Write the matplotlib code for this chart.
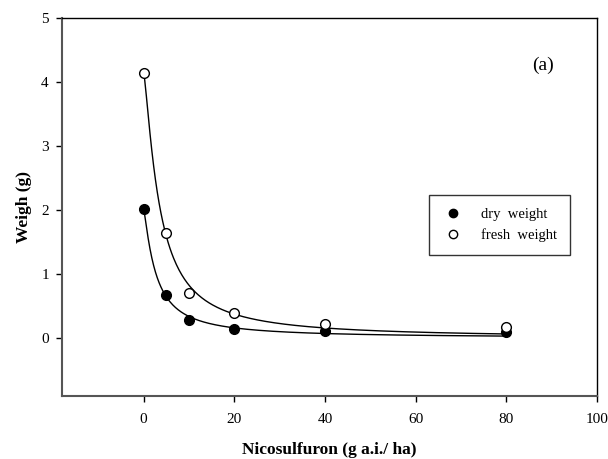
import numpy as np
import matplotlib
matplotlib.use("Agg")
from matplotlib import pyplot as plt

# data
dose = [0, 5, 10, 20, 40, 80]                      # g a.i./ha
dry = [2.02, 0.67, 0.29, 0.15, 0.11, 0.09]         # dry weight (g)
fresh = [4.15, 1.65, 0.70, 0.40, 0.22, 0.18]       # fresh weight (g)
xticks = [0, 20, 40, 60, 80, 100]
yticks = [0, 1, 2, 3, 4, 5]

plt.rcParams['font.family'] = ['Liberation Serif', 'DejaVu Serif']


def fit_curve(x, y):
    # log-logistic dose response y = d / (1 + (x/e)^b), grid search on e, b
    x = np.asarray(x, float)
    y = np.asarray(y, float)
    best = None
    for e in np.linspace(1.0, 10.0, 91):
        for b in np.linspace(0.8, 2.5, 69):
            g = 1.0 / (1.0 + (x / e) ** b)
            d = np.sum(g * y) / np.sum(g * g)
            err = np.sum((d * g - y) ** 2)
            if best is None or err < best[0]:
                best = (err, d, e, b)
    _, d, e, b = best
    return lambda t: d / (1.0 + (t / e) ** b)


fig = plt.figure(figsize=(6.08, 4.59), dpi=100)
ax = fig.add_axes([0.102, 0.138, 0.880, 0.822])

xs = np.linspace(0, 80, 400)
ax.plot(xs, fit_curve(dose, dry)(xs), color='black', lw=1.0)
ax.plot(xs, fit_curve(dose, fresh)(xs), color='black', lw=1.0)

ax.plot(dose, dry, 'o', color='black', ms=7, label='dry  weight')
ax.plot(dose, fresh, 'o', mfc='white', mec='black', mew=1.0, ms=7, label='fresh  weight')

ax.set_xlim(-18, 100)
ax.set_ylim(-0.9, 5)
ax.set_xticks(xticks)
ax.set_yticks(yticks)
ax.tick_params(direction='out', length=4.5, width=1, labelsize=11,
               top=False, right=False)
ax.tick_params(axis='x', pad=8)
ax.tick_params(axis='y', pad=5)

for s in ['left', 'bottom']:
    ax.spines[s].set_color('#555555')
    ax.spines[s].set_linewidth(1.5)
for s in ['top', 'right']:
    ax.spines[s].set_color('black')
    ax.spines[s].set_linewidth(1.0)

ax.set_xlabel('Nicosulfuron (g a.i./ ha)', fontsize=12.5, fontweight='bold')
ax.set_ylabel('Weigh (g)', fontsize=12.5, fontweight='bold')
ax.xaxis.set_label_coords(0.5, -0.123)
ax.yaxis.set_label_coords(-0.057, 0.5)

ax.text(88, 4.27, '(a)', fontsize=14, ha='center', va='center')

leg = ax.legend(loc='upper left', bbox_to_anchor=(0.685, 0.532), frameon=True,
                fancybox=False, edgecolor='black', fontsize=10.5, handletextpad=1.2,
                borderpad=0.9, borderaxespad=0, handlelength=1.5)
leg.get_frame().set_linewidth(1.0)
for h in leg.legend_handles:
    h.set_markersize(6)

fig.savefig('out.png', dpi=100)
